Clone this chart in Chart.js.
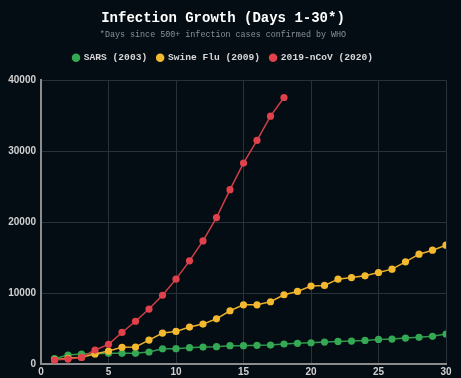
<!DOCTYPE html>
<html>
<head>
<meta charset="utf-8">
<script src="https://cdn.jsdelivr.net/npm/chart.js@4/dist/chart.umd.min.js"></script>
<style>
html,body{margin:0;padding:0;background:#050d14;}
#wrap{width:461px;height:378px;}
</style>
</head>
<body>
<div id="wrap"><canvas id="c" width="461" height="378"></canvas></div>
<script>
const days = Array.from({length: 30}, (_, i) => i + 1);
const seriesNames = ["SARS (2003)", "Swine Flu (2009)", "2019-nCoV (2020)"];
const sars = [750, 1270, 1400, 1450, 1500, 1510, 1510, 1690, 2150, 2160, 2300, 2390, 2440, 2580, 2580, 2630, 2670, 2820, 2910, 3000, 3100, 3190, 3240, 3330, 3470, 3520, 3660, 3760, 3900, 4230];
const swineFlu = [600, 800, 940, 1410, 1830, 2350, 2400, 3380, 4360, 4600, 5210, 5630, 6380, 7510, 8350, 8350, 8780, 9770, 10240, 10990, 11080, 11970, 12200, 12440, 12910, 13380, 14410, 15490, 16060, 16760];
const ncov = [560, 700, 930, 1970, 2770, 4450, 6030, 7750, 9700, 11970, 14550, 17370, 20660, 24600, 28350, 31550, 34970, 37600];
const yTicks = [0, 10000, 20000, 30000, 40000];
const xTicks = [0, 5, 10, 15, 20, 25, 30];

const colors = ["#34a853", "#f4b92f", "#e0414a"];
const lineColors = ["#2f9a4c", "#e9ad2b", "#cf3f46"];

function pts(arr) { return arr.map((v, i) => ({x: days[i], y: v})); }

const bg = {
  id: 'bg',
  beforeDraw(chart) {
    const ctx = chart.ctx;
    ctx.save();
    ctx.fillStyle = '#050d14';
    ctx.fillRect(0, 0, chart.width, chart.height);
    ctx.restore();
  }
};

const legendGap = {
  id: 'legendGap',
  beforeLayout(chart) {
    const lg = chart.legend;
    if (lg && !lg._gapPatched) {
      const f = lg.fit;
      lg.fit = function() { f.call(this); this.height += 8; };
      lg._gapPatched = true;
    }
  }
};

new Chart(document.getElementById('c'), {
  type: 'line',
  data: {
    datasets: [sars, swineFlu, ncov].map((arr, i) => ({
      label: seriesNames[i],
      data: pts(arr),
      borderColor: lineColors[i],
      backgroundColor: colors[i],
      pointBackgroundColor: colors[i],
      pointBorderColor: colors[i],
      pointRadius: 3.6,
      pointBorderWidth: 0,
      borderWidth: 1.5,
      tension: 0,
      fill: false,
      order: 2 - i
    }))
  },
  options: {
    responsive: false,
    animation: false,
    layout: {padding: {left: 0, right: 15, top: 1, bottom: 0}},
    plugins: {
      title: {
        display: true,
        text: 'Infection Growth (Days 1-30*)',
        color: '#ffffff',
        font: {family: '"Liberation Mono", "Courier New", monospace', size: 14, weight: 'bold'},
        padding: {top: 9, bottom: 3}
      },
      subtitle: {
        display: true,
        text: '*Days since 500+ infection cases confirmed by WHO',
        color: '#8a9096',
        font: {family: '"Liberation Mono", "Courier New", monospace', size: 8.4},
        padding: {top: 0, bottom: 3}
      },
      legend: {
        display: true,
        labels: {
          color: '#d8d8d8',
          font: {family: '"Liberation Mono", "Courier New", monospace', size: 9.6, weight: 'bold'},
          usePointStyle: true,
          pointStyle: 'circle',
          boxWidth: 6,
          boxHeight: 6,
          padding: 10,
          sort: (a, b) => a.datasetIndex - b.datasetIndex
        }
      },
      tooltip: {enabled: false}
    },
    scales: {
      x: {
        type: 'linear',
        min: 0,
        max: 30,
        afterBuildTicks(scale) { scale.ticks = xTicks.map(v => ({value: v})); },
        afterFit(scale) { scale.height = 14; },
        ticks: {
          color: '#d0d0d0',
          font: {family: '"Liberation Sans", Arial, sans-serif', size: 10, weight: 'bold'},
          padding: 2,
          maxRotation: 0,
          callback: v => String(v)
        },
        grid: {color: '#2a3239', lineWidth: 1, drawTicks: false},
        border: {color: '#8c8c8c', width: 2}
      },
      y: {
        min: 0,
        max: 40000,
        afterBuildTicks(scale) { scale.ticks = yTicks.map(v => ({value: v})); },
        afterFit(scale) { scale.width = 41; },
        ticks: {
          color: '#d0d0d0',
          font: {family: '"Liberation Sans", Arial, sans-serif', size: 10, weight: 'bold'},
          padding: 5,
          callback: v => String(v)
        },
        grid: {color: '#2a3239', lineWidth: 1, drawTicks: false},
        border: {color: '#8c8c8c', width: 2}
      }
    }
  },
  plugins: [bg, legendGap]
});
</script>
</body>
</html>
